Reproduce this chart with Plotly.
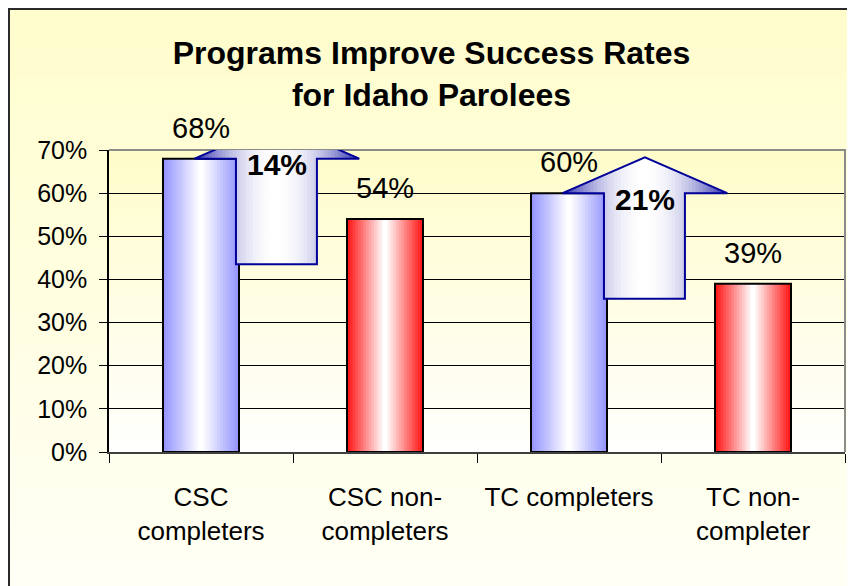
import plotly.graph_objects as go

# ---------------- data ----------------
categories = ["CSC<br>completers", "CSC non-<br>completers", "TC completers", "TC non-<br>completer"]
success_pct = [68, 54, 60, 39]
is_completer = [True, False, True, False]
comparison_pairs = [(0, 1), (2, 3)]          # (completer index, non-completer index)
y_tick_vals = [0, 10, 20, 30, 40, 50, 60, 70]
y_tick_text = ["0%", "10%", "20%", "30%", "40%", "50%", "60%", "70%"]
title_text = "Programs Improve Success Rates<br>for Idaho Parolees"

# ---------------- style ----------------
# the page body has an 8px margin, so the figure is 8px smaller in each direction
W_FIG, H_FIG = 847, 578
M_L, M_R, M_T, M_B = 101, 10, 142, 134
PW, PH = W_FIG - M_L - M_R, H_FIG - M_T - M_B
FONT = "Liberation Sans, Arial, sans-serif"
BAR_W = 0.413
BLUE_EDGE = (150, 150, 255)
RED_EDGE = (255, 25, 25)
ARROW_EDGE = (40, 40, 170)
ARROW_LINE = "#000099"
SHAFT_L, SHAFT_R = 0.19, 0.63
HEAD_L, HEAD_R = -0.035, 0.86
TIP_DY, BOTTOM_DY = 8.3, -24.5


def lerp(c1, c2, t):
    return "rgb(%d,%d,%d)" % tuple(round(a + (b - a) * t) for a, b in zip(c1, c2))


def px_x(px):
    return (px - M_L) / PW


def px_y(py):
    return (H_FIG - M_B - py) / PH


shapes = []

# figure background gradient (pale yellow -> near white)
N_BG = 60
y0p, y1p = 0, H_FIG + 5
for i in range(N_BG):
    a = y0p + (y1p - y0p) * i / N_BG
    b = y0p + (y1p - y0p) * (i + 1) / N_BG + 1
    shapes.append(dict(type="rect", xref="paper", yref="paper", layer="below",
                       x0=px_x(0), x1=px_x(W_FIG + 5), y0=px_y(b), y1=px_y(a),
                       line=dict(width=0),
                       fillcolor=lerp((255, 253, 204), (255, 255, 246), i / (N_BG - 1))))
# plot area gradient
N_PA = 40
for i in range(N_PA):
    shapes.append(dict(type="rect", xref="paper", yref="paper", layer="below",
                       x0=0, x1=1, y0=max(0, 1 - (i + 1) / N_PA - 0.004), y1=1 - i / N_PA,
                       line=dict(width=0),
                       fillcolor=lerp((255, 252, 202), (255, 255, 253), i / (N_PA - 1))))
# chart frame (top + left visible)
shapes.append(dict(type="rect", xref="paper", yref="paper", layer="below",
                   x0=px_x(1), x1=px_x(W_FIG + 20), y0=px_y(H_FIG + 20), y1=px_y(1),
                   line=dict(color="#2a2a2a", width=2), fillcolor="rgba(0,0,0,0)"))
# plot area border (grey): top and right edges
shapes.append(dict(type="path", xref="paper", yref="paper", layer="above",
                   path="M 0,1 L 1,1 L 1,0",
                   line=dict(color="#8c8c8c", width=2)))

# block arrows showing the improvement
half = (HEAD_R - HEAD_L) / 2
tip = (HEAD_L + HEAD_R) / 2
annotations = []
for ci, ni in comparison_pairs:
    sh = success_pct[ci]
    bot = sh + BOTTOM_DY

    def top_y(x, sh=sh):
        return sh + TIP_DY * (1 - abs(x - tip) / half)

    segs = [(HEAD_L, SHAFT_L, sh), (SHAFT_L, tip, bot), (tip, SHAFT_R, bot), (SHAFT_R, HEAD_R, sh)]
    for s0, s1, yb in segs:
        n = 12
        for k in range(n):
            xa = s0 + (s1 - s0) * k / n
            xb = min(HEAD_R, s0 + (s1 - s0) * (k + 1) / n + 0.004)
            xm = (xa + xb) / 2
            t = min(1, abs(xm - tip) / half) ** 2
            path = "M %f,%f L %f,%f L %f,%f L %f,%f Z" % (
                ci + xa, yb, ci + xa, top_y(xa), ci + xb, top_y(xb), ci + xb, yb)
            shapes.append(dict(type="path", xref="x", yref="y", layer="above", path=path,
                               line=dict(width=0), fillcolor=lerp((255, 255, 255), ARROW_EDGE, t)))
    outline = "M %f,%f L %f,%f L %f,%f L %f,%f L %f,%f L %f,%f L %f,%f Z" % (
        ci + SHAFT_L, bot, ci + SHAFT_L, sh, ci + HEAD_L, sh, ci + tip, sh + TIP_DY,
        ci + HEAD_R, sh, ci + SHAFT_R, sh, ci + SHAFT_R, bot)
    shapes.append(dict(type="path", xref="x", yref="y", layer="above", path=outline,
                       line=dict(color=ARROW_LINE, width=2), fillcolor="rgba(0,0,0,0)"))
    annotations.append(dict(x=ci + tip, y=sh, xref="x", yref="y", yanchor="middle", yshift=-6,
                            text="<b>%d%%</b>" % (success_pct[ci] - success_pct[ni]),
                            showarrow=False, font=dict(family=FONT, size=30, color="black")))

# data labels
for i, v in enumerate(success_pct):
    annotations.append(dict(x=i, y=v, xref="x", yref="y", yanchor="bottom", yshift=13,
                            text="%d%%" % v, showarrow=False,
                            font=dict(family=FONT, size=29, color="black")))

fig = go.Figure()
x_idx = list(range(len(categories)))
edges = [BLUE_EDGE if c else RED_EDGE for c in is_completer]
N_LAYERS = 14
for k in range(N_LAYERS):
    t = k / (N_LAYERS - 1)
    fig.add_trace(go.Bar(x=x_idx, y=success_pct, width=BAR_W * (1 - k / N_LAYERS),
                         marker=dict(color=[lerp(e, (255, 255, 255), t) for e in edges],
                                     line=dict(width=0)),
                         showlegend=False, hoverinfo="skip"))
fig.add_trace(go.Bar(x=x_idx, y=success_pct, width=BAR_W,
                     marker=dict(color="rgba(0,0,0,0)", line=dict(color="black", width=2)),
                     showlegend=False, hovertemplate="%{y}%<extra></extra>"))

fig.update_layout(
    width=W_FIG, height=H_FIG,
    margin=dict(l=M_L, r=M_R, t=M_T, b=M_B, autoexpand=False),
    paper_bgcolor="#fffff6", plot_bgcolor="#fffffd",
    barmode="overlay",
    font=dict(family=FONT, color="black"),
    title=dict(text="<b>%s</b>" % title_text, x=0.5, xanchor="center", xref="container",
               y=1 - 56 / H_FIG, yanchor="top", font=dict(family=FONT, size=32, color="black")),
    shapes=shapes, annotations=annotations,
    xaxis=dict(range=[-0.5, 3.5], tickmode="array", tickvals=x_idx, ticktext=categories,
               ticks="", showgrid=False, zeroline=False, automargin=False,
               showline=True, linecolor="#404040", linewidth=1.5,
               tickfont=dict(family=FONT, size=26, color="black"), ticklabelstandoff=21,
               minor=dict(tickmode="array", tickvals=[-0.5, 0.5, 1.5, 2.5, 3.5], ticks="outside",
                          ticklen=9, tickwidth=1.2, tickcolor="black", showgrid=False)),
    yaxis=dict(range=[0, 70], tickmode="array", tickvals=y_tick_vals, ticktext=y_tick_text,
               ticks="outside", ticklen=8, tickwidth=1.2, tickcolor="black",
               showgrid=True, gridcolor="black", gridwidth=1, zeroline=False, automargin=False,
               showline=True, linecolor="black", linewidth=1.5,
               tickfont=dict(family=FONT, size=25, color="black"), ticklabelstandoff=7),
)

fig.write_html("out.html")
